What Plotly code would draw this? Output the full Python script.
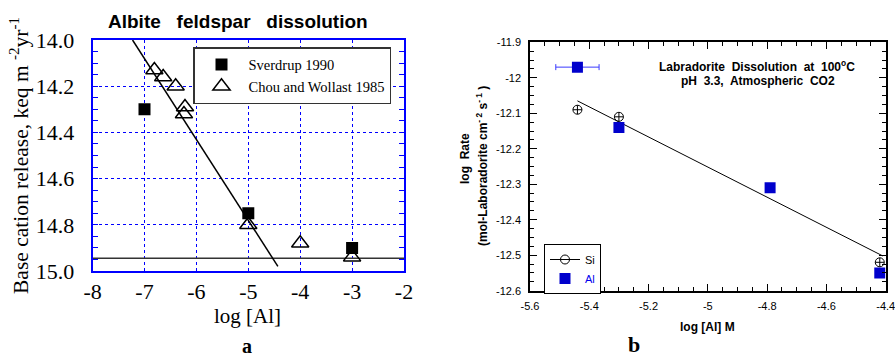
import plotly.graph_objects as go

# ---------------- Panel a: Albite feldspar dissolution ----------------
sverdrup_x = [-7, -5, -3]
sverdrup_y = [14.30, 14.75, 14.90]
chou_x = [-6.81, -6.64, -6.40, -6.22, -6.24, -5, -4, -3]
chou_y = [14.13, 14.16, 14.20, 14.29, 14.32, 14.80, 14.88, 14.94]
fit_a_x = [-7.23, -4.43]
fit_a_y = [14.0, 14.98]
base_a_x = [-8, -2]
base_a_y = [14.945, 14.945]
a_xticks = [-8, -7, -6, -5, -4, -3, -2]
a_yticks = [14.0, 14.2, 14.4, 14.6, 14.8, 15.0]

# ---------------- Panel b: Labradorite dissolution ----------------
al_x = [-5.44, -5.30, -4.79, -4.42]
al_y = [-11.97, -12.14, -12.31, -12.55]
al_xerr = [0.073, None, None, None]
si_x = [-5.44, -5.30, -4.42]
si_y = [-12.09, -12.11, -12.52]
fit_b_x = [-5.44, -4.41]
fit_b_y = [-12.065, -12.502]
b_xticks = [-5.6, -5.4, -5.2, -5.0, -4.8, -4.6, -4.4]
b_xticktext = ["-5.6", "-5.4", "-5.2", "-5", "-4.8", "-4.6", "-4.4"]
b_yticks = [-11.9, -12.0, -12.1, -12.2, -12.3, -12.4, -12.5, -12.6]
b_yticktext = ["-11.9", "-12", "-12.1", "-12.2", "-12.3", "-12.4", "-12.5", "-12.6"]

W, H = 895, 359
SERIF = "Liberation Serif"
SANS = "Liberation Sans"
BLUE = "#0000ff"
ALBLUE = "#0000cc"

fig = go.Figure()

# Panel a traces
fig.add_trace(go.Scatter(x=base_a_x, y=base_a_y, mode="lines",
                         line=dict(color="#333333", width=1.5),
                         showlegend=False, xaxis="x", yaxis="y", hoverinfo="skip"))
fig.add_trace(go.Scatter(x=fit_a_x, y=fit_a_y, mode="lines",
                         line=dict(color="black", width=1.5),
                         showlegend=False, xaxis="x", yaxis="y", cliponaxis=False))
fig.add_trace(go.Scatter(x=sverdrup_x, y=sverdrup_y, mode="markers", name="Sverdrup 1990",
                         marker=dict(symbol="square", size=12, color="black"),
                         xaxis="x", yaxis="y", legend="legend"))
fig.add_trace(go.Scatter(x=chou_x, y=chou_y, mode="markers", name="Chou and Wollast 1985",
                         marker=dict(symbol="triangle-up-open", size=15, color="black",
                                     line=dict(width=1.5, color="black")),
                         xaxis="x", yaxis="y", legend="legend"))

# Panel b traces
fig.add_trace(go.Scatter(x=fit_b_x, y=fit_b_y, mode="lines",
                         line=dict(color="black", width=1),
                         showlegend=False, xaxis="x2", yaxis="y2"))
fig.add_trace(go.Scatter(x=[None], y=[None], mode="lines+markers", name="Si",
                         line=dict(color="black", width=1),
                         marker=dict(symbol="circle-open", size=9, color="black",
                                     line=dict(width=1)),
                         xaxis="x2", yaxis="y2", legend="legend2"))
fig.add_trace(go.Scatter(x=si_x, y=si_y, mode="markers", showlegend=False,
                         marker=dict(symbol="circle-cross-open", size=9, color="black",
                                     line=dict(width=1)),
                         xaxis="x2", yaxis="y2"))
fig.add_trace(go.Scatter(x=al_x, y=al_y, mode="markers",
                         name='<span style="color:#0000ee">Al</span>',
                         marker=dict(symbol="square", size=11, color=ALBLUE),
                         error_x=dict(type="data", array=al_xerr, color="#3a3aff",
                                      thickness=1, width=3),
                         xaxis="x2", yaxis="y2", legend="legend2"))

ax_a_x0, ax_a_x1 = 92.6 / W, 404 / W
ax_a_y0, ax_a_y1 = 1 - 271 / H, 1 - 40 / H
ax_b_x0, ax_b_x1 = 530 / W, 885.7 / W
ax_b_y0, ax_b_y1 = 1 - 290.7 / H, 1 - 42.3 / H

fig.update_layout(
    width=W, height=H,
    margin=dict(l=0, r=0, t=0, b=0, autoexpand=False),
    paper_bgcolor="white", plot_bgcolor="white",
    xaxis=dict(domain=[ax_a_x0, ax_a_x1], anchor="y", range=[-8, -2], automargin=False,
               tickvals=a_xticks, ticktext=[str(v) for v in a_xticks],
               showgrid=True, gridcolor=BLUE, griddash="dot", gridwidth=1,
               showline=True, linecolor=BLUE, linewidth=2, mirror=True,
               ticks="", zeroline=False,
               tickfont=dict(family=SERIF, size=22, color="black"),
               ticklabelstandoff=0),
    yaxis=dict(domain=[ax_a_y0, ax_a_y1], anchor="x", range=[15.0, 14.0], automargin=False,
               tickvals=a_yticks, ticktext=["%.1f" % v for v in a_yticks],
               showgrid=True, gridcolor=BLUE, griddash="dot", gridwidth=1,
               showline=True, linecolor=BLUE, linewidth=2, mirror="ticks",
               ticks="inside", ticklen=5, tickcolor=BLUE, zeroline=False,
               minor=dict(dtick=0.05, ticks="inside", ticklen=5, tickcolor=BLUE,
                          showgrid=False),
               tickfont=dict(family=SERIF, size=22, color="black"),
               ticklabelstandoff=12),
    xaxis2=dict(domain=[ax_b_x0, ax_b_x1], anchor="y2", range=[-5.6, -4.4], automargin=False,
                tickvals=b_xticks, ticktext=b_xticktext, ticklabeloverflow="allow",
                showgrid=False, zeroline=False,
                showline=True, linecolor="black", linewidth=1.5, mirror="ticks",
                ticks="inside", ticklen=7, tickcolor="black", tickwidth=1,
                minor=dict(dtick=0.05, tick0=-5.6, ticks="inside", ticklen=4,
                           tickcolor="black", showgrid=False),
                tickfont=dict(family=SANS, size=11, color="black"),
                ticklabelstandoff=4),
    yaxis2=dict(domain=[ax_b_y0, ax_b_y1], anchor="x2", range=[-12.6, -11.9], automargin=False,
                tickvals=b_yticks, ticktext=b_yticktext,
                showgrid=False, zeroline=False,
                showline=True, linecolor="black", linewidth=1.5, mirror="ticks",
                ticks="inside", ticklen=7, tickcolor="black", tickwidth=1,
                minor=dict(dtick=0.025, tick0=-12.6, ticks="inside", ticklen=4,
                           tickcolor="black", showgrid=False),
                tickfont=dict(family=SANS, size=11, color="black"),
                ticklabelstandoff=5),
    legend=dict(x=193 / W, y=1 - 47 / H, xanchor="left", yanchor="top",
                bgcolor="white", bordercolor="#333333", borderwidth=1.5,
                font=dict(family=SERIF, size=14.5, color="black"),
                itemwidth=44, tracegroupgap=0),
    legend2=dict(x=544 / W, y=1 - 244 / H, xanchor="left", yanchor="top",
                 bgcolor="white", bordercolor="black", borderwidth=1,
                 font=dict(family=SANS, size=11, color="black"),
                 itemwidth=30, tracegroupgap=0),
    showlegend=True,
)

annotations = [
    dict(text="<b>Albite   feldspar   dissolution</b>", x=238 / W, y=1 - 22 / H,
         font=dict(family=SANS, size=19, color="black")),
    dict(text="Base cation release, keq m <sup>-2</sup>yr<sup>-1</sup>", x=19 / W, y=1 - 156 / H,
         textangle=-90, font=dict(family=SERIF, size=21.5, color="black")),
    dict(text="log [Al]", x=247 / W, y=1 - 316 / H,
         font=dict(family=SERIF, size=21, color="black")),
    dict(text="<b>a</b>", x=247 / W, y=0, yanchor="bottom",
         font=dict(family=SERIF, size=20, color="black")),
    dict(text="<b>Labradorite  Dissolution  at  100<sup>o</sup>C</b>", x=757 / W, y=1 - 66 / H,
         font=dict(family=SANS, size=12, color="black")),
    dict(text="<b>pH  3.3,  Atmospheric  CO2</b>", x=758 / W, y=1 - 81 / H,
         font=dict(family=SANS, size=12, color="black")),
    dict(text="<b>log  Rate</b>", x=465 / W, y=1 - 158 / H, textangle=-90,
         font=dict(family=SANS, size=12, color="black")),
    dict(text="<b>(mol-Laboradorite cm<sup>- 2</sup> s<sup>- 1</sup> )</b>", x=482 / W, y=1 - 166 / H,
         textangle=-90, font=dict(family=SANS, size=12, color="black")),
    dict(text="<b>log [Al] M</b>", x=707 / W, y=1 - 327 / H,
         font=dict(family=SANS, size=12, color="black")),
    dict(text="<b>b</b>", x=634 / W, y=0, yanchor="bottom",
         font=dict(family=SERIF, size=22, color="black")),
]
for a in annotations:
    a.setdefault("yanchor", "middle")
    a.update(xref="paper", yref="paper", showarrow=False, xanchor="center")
fig.update_layout(annotations=annotations)

fig.write_html("out.html",
               config={"displayModeBar": False},
               post_script="document.body.style.margin='0';document.body.style.overflow='hidden';")
